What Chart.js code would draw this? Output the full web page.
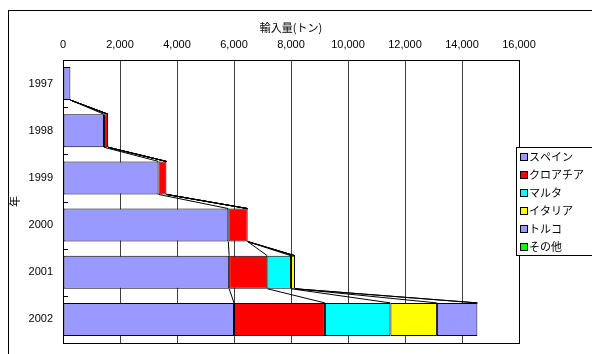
<!DOCTYPE html>
<html>
<head>
<meta charset="utf-8">
<script src="https://cdn.jsdelivr.net/npm/chart.js@4/dist/chart.umd.min.js"></script>
<style>
  html, body { margin: 0; padding: 0; background: #fff; }
  #wrap { position: relative; width: 592px; height: 354px; }
</style>
</head>
<body>
<div id="wrap"><canvas id="c"></canvas></div>
<script>
// Import volume (tonnes) by country of origin, per year
const years = ['1997', '1998', '1999', '2000', '2001', '2002'];
const spain   = [260, 1440, 3350, 5800, 5830, 6000];
const croatia = [0, 140, 280, 680, 1340, 3190];
const malta   = [0, 0, 0, 0, 830, 2300];
const italy   = [0, 0, 0, 0, 140, 1630];
const turkey  = [0, 0, 0, 0, 0, 1420];
const others  = [0, 0, 0, 0, 0, 0];

const seriesNames  = ['スペイン', 'クロアチア', 'マルタ', 'イタリア', 'トルコ', 'その他'];
const seriesValues = [spain, croatia, malta, italy, turkey, others];
const seriesColors = ['#9999FF', '#FF0000', '#00FFFF', '#FFFF00', '#9999FF', '#00FF00'];

const xTitle = '輸入量(トン)';
const yTitle = '年';

const LABEL_FONT = "'Liberation Sans', Arial, sans-serif";
const JP_FONT = "'Noto Sans CJK JP', 'Noto Sans', sans-serif";

// Connector lines between the ends of each series in consecutive bars,
// inner tick marks, plot frame, outer frame and the legend box.
const decorations = {
  id: 'decorations',
  afterDatasetsDraw(chart) {
    const ctx = chart.ctx;
    const xs = chart.scales.x;
    const area = chart.chartArea;
    const base = chart.getDatasetMeta(0).data;
    const n = years.length;

    ctx.save();
    ctx.strokeStyle = '#000';
    ctx.lineWidth = 1;

    // series lines
    const cum = new Array(n).fill(0);
    chart.data.datasets.forEach((ds) => {
      const ends = ds.data.map((v, i) => (cum[i] += v));
      for (let i = 0; i < n - 1; i++) {
        const b0 = base[i], b1 = base[i + 1];
        ctx.beginPath();
        ctx.moveTo(xs.getPixelForValue(ends[i]), b0.y + b0.height / 2);
        ctx.lineTo(xs.getPixelForValue(ends[i + 1]), b1.y - b1.height / 2);
        ctx.stroke();
      }
    });

    // inner tick marks at category boundaries
    const ys = chart.scales.y;
    for (let i = 0; i <= n; i++) {
      const y = Math.round(ys.getPixelForValue(i - 0.5)) + 0.5;
      ctx.beginPath();
      ctx.moveTo(area.left, y);
      ctx.lineTo(area.left + 5, y);
      ctx.stroke();
    }

    // plot frame
    ctx.strokeRect(Math.round(area.left) + 0.5, Math.round(area.top) + 0.5,
                   Math.round(area.right - area.left), Math.round(area.bottom - area.top));
    ctx.restore();
  },
  afterDraw(chart) {
    const ctx = chart.ctx;
    ctx.save();
    ctx.strokeStyle = '#000';
    ctx.lineWidth = 1;

    // outer frame
    ctx.strokeRect(8.5, 10.5, 700, 400);

    // legend
    const lx = 516.5, ly = 147.5, rowH = 18;
    const items = chart.data.datasets;
    ctx.fillStyle = '#fff';
    ctx.fillRect(lx, ly, 120, rowH * items.length);
    ctx.strokeRect(lx, ly, 120, rowH * items.length);
    ctx.font = '11px ' + JP_FONT;
    ctx.textBaseline = 'middle';
    ctx.textAlign = 'left';
    items.forEach((ds, i) => {
      const cy = ly + rowH * i + rowH / 2 + 0.5;
      ctx.fillStyle = ds.backgroundColor;
      ctx.fillRect(520.5, Math.round(cy) - 3.5, 7, 7);
      ctx.strokeRect(520.5, Math.round(cy) - 3.5, 7, 7);
      ctx.fillStyle = '#000';
      ctx.fillText(ds.label, 529, cy);
    });
    ctx.restore();
  }
};

new Chart(document.getElementById('c'), {
  type: 'bar',
  data: {
    labels: years,
    datasets: seriesNames.map((name, i) => ({
      label: name,
      data: seriesValues[i],
      backgroundColor: seriesColors[i],
      borderColor: '#000',
      borderWidth: 1,
      borderSkipped: false,
      categoryPercentage: 1,
      barPercentage: 0.7
    }))
  },
  options: {
    indexAxis: 'y',
    responsive: true,
    maintainAspectRatio: false,
    animation: false,
    layout: { padding: { left: 0, top: 0, right: 73, bottom: 11 } },
    plugins: {
      legend: { display: false },
      tooltip: { enabled: false }
    },
    scales: {
      x: {
        position: 'top',
        stacked: true,
        min: 0,
        max: 16000,
        ticks: {
          stepSize: 2000,
          padding: 8,
          color: '#000',
          font: { family: LABEL_FONT, size: 11 },
          callback: (v) => v.toLocaleString('en-US')
        },
        grid: { color: '#404040', lineWidth: 1, drawTicks: false },
        border: { display: false },
        title: {
          display: true,
          text: xTitle,
          color: '#000',
          font: { family: JP_FONT, size: 11 },
          padding: { top: 21, bottom: 0 }
        },
        afterFit(scale) {
          scale.height = 60;
          scale.paddingLeft = 0;
          scale.paddingRight = 0;
        }
      },
      y: {
        stacked: true,
        ticks: {
          padding: 10,
          color: '#000',
          font: { family: LABEL_FONT, size: 11 }
        },
        grid: { display: false, drawTicks: false },
        border: { display: false },
        title: {
          display: true,
          text: yTitle,
          color: '#000',
          font: { family: JP_FONT, size: 11 },
          padding: { top: 8, bottom: 0 }
        },
        afterFit(scale) {
          scale.width = 63;
          scale.paddingTop = 0;
          scale.paddingBottom = 0;
        }
      }
    }
  },
  plugins: [decorations]
});
</script>
</body>
</html>
